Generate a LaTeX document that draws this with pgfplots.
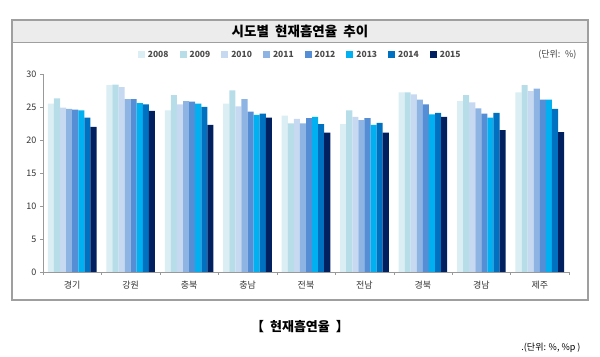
\documentclass[border=0pt]{standalone}
\usepackage{fontspec}
\setmainfont{Noto Sans CJK KR}
\usepackage{pgfplots}
\pgfplotsset{compat=1.18}
\usepackage{pgfplotstable}
\definecolor{c08}{HTML}{DAEEF3}
\definecolor{c09}{HTML}{B7DDE8}
\definecolor{c10}{HTML}{C6D9F1}
\definecolor{c11}{HTML}{8EB4E3}
\definecolor{c12}{HTML}{558ED5}
\definecolor{c13}{HTML}{00B0F0}
\definecolor{c14}{HTML}{0070C0}
\definecolor{c15}{HTML}{002060}
\pgfplotstableread{
x y08 y09 y10 y11 y12 y13 y14 y15
0 25.5 26.3 24.9 24.7 24.6 24.5 23.4 22.0
1 28.3 28.4 28.0 26.2 26.2 25.6 25.4 24.4
2 24.5 26.8 25.4 25.9 25.8 25.5 25.0 22.3
3 25.5 27.5 25.1 26.2 24.3 23.8 24.0 23.4
4 23.7 22.5 23.2 22.5 23.3 23.5 22.4 21.1
5 22.4 24.5 23.5 23.0 23.3 22.3 22.6 21.1
6 27.2 27.2 26.9 26.1 25.4 23.9 24.1 23.5
7 25.9 26.8 25.7 24.8 24.0 23.4 24.1 21.5
8 27.2 28.3 27.4 27.8 26.1 26.1 24.7 21.2
}\data
\begin{document}
\begin{tikzpicture}[x=1pt,y=1pt]
\path (0,0) rectangle (600,-354);
\fill[gray!15] (12,-20) rectangle (588,-42);
\draw[gray!75, line width=1.2pt] (12,-20) rectangle (588,-300);
\draw[gray!75, line width=0.8pt] (12,-42) -- (588,-42);
\node[font=\bfseries\fontsize{13.5}{15}\selectfont] at (300,-31) {시도별 \ 현재흡연율 \ 추이};
\node[font=\fontsize{9}{11}\selectfont, anchor=east, text=black!75] at (580,-55) {(단위: \ \%)};
\begin{axis}[
  at={(43pt,-272pt)}, anchor=south west,
  scale only axis, width=526pt, height=198pt,
  ybar=0pt, bar width=0.104,
  xmin=-0.5, xmax=8.5, ymin=0, ymax=30,
  axis x line*=bottom, axis y line*=left,
  axis line style={gray!80},
  ytick={0,5,...,30},
  xtick={-0.5,0.5,...,8.5}, xticklabels={},
  extra x ticks={0,1,...,8},
  extra x tick labels={경기,강원,충북,충남,전북,전남,경북,경남,제주},
  extra x tick style={major tick length=0pt, tick label style={yshift=-6pt}},
  tick align=outside, major tick length=3pt,
  tick style={gray!80},
  ticklabel style={font=\fontsize{9}{11}\selectfont, text=black!80},
  /pgf/number format/assume math mode=true,
  legend columns=8,
  legend style={at={(0.489,1.096)}, anchor=center, draw=none, fill=none,
    font=\bfseries\fontsize{8.5}{10}\selectfont, text=black!70,
    /tikz/every odd column/.append style={column sep=1pt},
    /tikz/every even column/.append style={column sep=9pt}},
  legend image code/.code={\fill[#1] (0pt,-3.5pt) rectangle (7pt,3.5pt);},
]
\addplot[fill=c08, draw=none] table[x=x,y=y08]{\data};
\addplot[fill=c09, draw=none] table[x=x,y=y09]{\data};
\addplot[fill=c10, draw=none] table[x=x,y=y10]{\data};
\addplot[fill=c11, draw=none] table[x=x,y=y11]{\data};
\addplot[fill=c12, draw=none] table[x=x,y=y12]{\data};
\addplot[fill=c13, draw=none] table[x=x,y=y13]{\data};
\addplot[fill=c14, draw=none] table[x=x,y=y14]{\data};
\addplot[fill=c15, draw=none] table[x=x,y=y15]{\data};
\legend{2008,2009,2010,2011,2012,2013,2014,2015}
\end{axis}
\node[font=\bfseries\fontsize{13}{15}\selectfont] at (300,-327) {【 \ 현재흡연율 \ 】};
\node[font=\fontsize{9}{11}\selectfont, anchor=east] at (584,-348) {.(단위: \%, \%p )};
\end{tikzpicture}
\end{document}
